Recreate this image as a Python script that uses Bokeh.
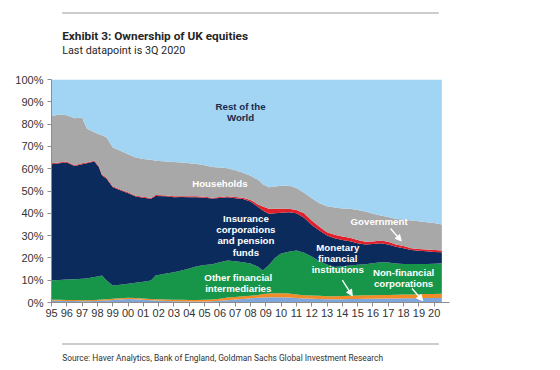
from bokeh.plotting import figure
from bokeh.layouts import column
from bokeh.models import ColumnDataSource, FixedTicker, Arrow, NormalHead
from bokeh.embed import file_html
from bokeh.resources import INLINE
from bokeh.core.properties import value

# ---------------- data (share of UK equities, %) ----------------
years = [1995.0, 1995.5, 1996.0, 1996.5, 1997.0, 1997.3, 1997.8, 1998.1, 1998.3, 1998.6,
         1999.0, 1999.5, 2000.0, 2000.5, 2001.0, 2001.5, 2001.8, 2002.5, 2003.0, 2003.5,
         2004.0, 2004.5, 2005.0, 2005.5, 2006.0, 2006.5, 2007.0, 2007.5, 2008.0, 2008.5,
         2008.8, 2009.2, 2009.6, 2010.0, 2010.5, 2011.0, 2011.5, 2012.0, 2012.5, 2013.0,
         2013.5, 2014.0, 2014.5, 2015.0, 2015.5, 2016.0, 2016.5, 2017.0, 2017.5, 2018.0,
         2018.5, 2019.0, 2019.5, 2020.0, 2020.5]

non_financial_corps = [0.8, 0.8, 0.7, 0.7, 0.6, 0.6, 0.7, 0.8, 0.8, 0.9,
                       1.1, 1.3, 1.6, 1.5, 1.2, 1.0, 0.9, 0.7, 0.6, 0.6,
                       0.5, 0.5, 0.5, 0.6, 0.8, 1.0, 1.3, 1.6, 1.9, 2.1,
                       2.2, 2.3, 2.3, 2.3, 2.2, 2.0, 1.8, 1.7, 1.6, 1.5,
                       1.5, 1.5, 1.6, 1.6, 1.7, 1.7, 1.8, 1.8, 1.8, 1.9,
                       1.9, 2.0, 2.0, 2.0, 2.0]
monetary_fin_inst = [0.4, 0.4, 0.4, 0.4, 0.4, 0.4, 0.4, 0.4, 0.5, 0.6,
                     0.6, 0.6, 0.5, 0.5, 0.6, 0.6, 0.6, 0.6, 0.6, 0.6,
                     0.6, 0.6, 0.7, 0.7, 0.9, 1.2, 1.2, 1.2, 1.1, 1.3,
                     1.6, 1.7, 1.8, 1.8, 1.8, 1.6, 1.5, 1.4, 1.4, 1.3,
                     1.3, 1.4, 1.4, 1.5, 1.5, 1.6, 1.6, 1.6, 1.7, 1.7,
                     1.7, 1.7, 1.8, 1.8, 1.9]
other_fin_interm = [8.7, 8.9, 9.2, 9.3, 9.6, 9.8, 10.3, 10.6, 10.8, 8.4,
                    5.9, 6.1, 6.3, 6.9, 7.5, 8.3, 10.6, 11.7, 12.4, 13.1,
                    14.1, 15.2, 15.6, 15.9, 16.3, 16.6, 16.0, 15.2, 14.5, 12.6,
                    10.5, 12.8, 15.9, 17.9, 18.8, 19.7, 19.0, 17.5, 15.5, 14.2,
                    13.1, 13.3, 13.6, 13.8, 14.0, 14.3, 14.7, 14.5, 14.0, 13.7,
                    13.7, 13.6, 13.5, 13.6, 13.7]
insurance_pension = [52.1, 52.3, 52.5, 50.8, 51.4, 51.6, 51.8, 48.9, 44.9, 45.6,
                     44.1, 42.3, 40.6, 38.6, 37.7, 36.6, 35.7, 34.6, 33.6, 33.0,
                     32.0, 30.9, 30.2, 29.4, 28.9, 28.4, 28.3, 28.4, 27.8, 26.8,
                     27.0, 23.0, 20.0, 18.3, 17.7, 16.7, 15.7, 14.2, 13.8, 13.0,
                     12.9, 11.8, 10.9, 9.7, 8.8, 8.6, 8.5, 8.1, 7.5, 7.0,
                     6.2, 5.9, 5.7, 5.3, 4.9]
government = [0.5, 0.4, 0.4, 0.4, 0.4, 0.4, 0.4, 0.4, 0.4, 0.4,
              0.4, 0.4, 0.4, 0.4, 0.4, 0.4, 0.4, 0.4, 0.4, 0.4,
              0.4, 0.4, 0.4, 0.4, 0.4, 0.4, 0.5, 0.6, 0.7, 1.2,
              1.7, 2.2, 2.0, 1.7, 1.5, 1.5, 2.0, 2.0, 1.7, 1.5,
              1.6, 1.6, 1.5, 1.4, 1.2, 1.2, 1.2, 1.2, 1.0, 1.0,
              0.8, 0.8, 0.8, 0.8, 0.8]
households = [21.0, 21.5, 20.8, 21.0, 20.6, 15.2, 12.8, 14.4, 17.6, 18.1,
              17.4, 17.3, 17.1, 17.1, 16.9, 17.1, 15.4, 15.2, 15.4, 15.1,
              14.9, 14.5, 14.2, 13.8, 13.2, 12.6, 12.0, 11.2, 10.8, 11.0,
              10.0, 9.7, 10.0, 10.3, 10.5, 9.8, 9.2, 10.0, 10.5, 11.7,
              12.2, 12.6, 13.0, 13.5, 13.6, 12.4, 11.2, 11.1, 11.5, 11.9,
              12.5, 12.4, 12.2, 12.1, 11.7]
rest_of_world = [16.5, 15.7, 16.0, 17.4, 17.0, 22.0, 23.6, 24.5, 25.0, 26.0,
                 30.5, 32.0, 33.5, 35.0, 35.7, 36.0, 36.4, 36.8, 37.0, 37.2,
                 37.5, 37.9, 38.4, 39.2, 39.5, 39.8, 40.7, 41.8, 43.2, 45.0,
                 47.0, 48.3, 48.0, 47.7, 47.5, 48.7, 50.8, 53.2, 55.5, 56.8,
                 57.4, 57.8, 58.0, 58.5, 59.2, 60.2, 61.0, 61.7, 62.5, 62.8,
                 63.2, 63.6, 64.0, 64.4, 65.0]

tick_years = list(range(1995, 2021))
tick_labels = ["95", "96", "97", "98", "99", "00", "01", "02", "03", "04", "05", "06", "07",
               "08", "09", "10", "11", "12", "13", "14", "15", "16", "17", "18", "19", "20"]
y_ticks = [0, 10, 20, 30, 40, 50, 60, 70, 80, 90, 100]
y_labels = ["0%", "10%", "20%", "30%", "40%", "50%", "60%", "70%", "80%", "90%", "100%"]

title_text = "Exhibit 3: Ownership of UK equities"
subtitle_text = "Last datapoint is 3Q 2020"
source_text = "Source: Haver Analytics, Bank of England, Goldman Sachs Global Investment Research"

FONT = "Liberation Sans"
HEAD = "Roboto"
W = 560


def blank(h):
    f = figure(width=W, height=h, x_range=(0, W), y_range=(h, 0), x_axis_type=None,
               y_axis_type=None, min_border=0, min_border_left=0, min_border_right=0,
               min_border_top=0, min_border_bottom=0, toolbar_location=None,
               output_backend="svg", background_fill_color="white",
               border_fill_color="white")
    f.outline_line_color = None
    f.grid.visible = False
    f.title.visible = False
    return f


# ---------------- header ----------------
header = blank(70)
header.segment(x0=[15], y0=[12.5], x1=[545], y1=[12.5], line_color="#999999", line_width=1)
header.text(x=[15], y=[35], text=[title_text], text_font=value(HEAD), text_font_style="bold",
            text_font_size="11.8px", text_color="#262626", text_baseline="alphabetic")
header.text(x=[15], y=[49.5], text=[subtitle_text], text_font=value(HEAD),
            text_font_size="10.8px", text_color="#262626", text_baseline="alphabetic")

# ---------------- main chart ----------------
stackers = ["nfc", "mfi", "ofi", "icpf", "gov", "hh", "row"]
colors = ["#7FA6DA", "#F28C28", "#17964A", "#0A2B5C", "#E0202A", "#A8A8A8", "#A2D4F3"]

source = ColumnDataSource(dict(year=years, nfc=non_financial_corps, mfi=monetary_fin_inst,
                               ofi=other_fin_interm, icpf=insurance_pension, gov=government,
                               hh=households, row=rest_of_world))

p = figure(width=W, height=260, output_backend="svg", toolbar_location=None,
           x_range=(1995, 2021), y_range=(0, 100),
           min_border_left=51, min_border_right=111, min_border_top=9, min_border_bottom=28,
           background_fill_color="white", border_fill_color="white")
p.outline_line_color = None
p.grid.visible = False
p.title.visible = False

p.varea_stack(stackers=stackers, x="year", color=colors, source=source)

for ax in (p.xaxis[0], p.yaxis[0]):
    ax.axis_line_color = "#8C8C8C"
    ax.major_tick_line_color = "#8C8C8C"
    ax.major_tick_out = 4
    ax.major_tick_in = 0
    ax.minor_tick_line_color = None
    ax.major_label_text_font = FONT
    ax.major_label_text_font_size = "11px"
    ax.major_label_text_color = "#333333"

p.xaxis.ticker = FixedTicker(ticks=tick_years)
p.xaxis.major_label_overrides = {y: l for y, l in zip(tick_years, tick_labels)}
p.xaxis.major_label_standoff = 2
p.yaxis.ticker = FixedTicker(ticks=y_ticks)
p.yaxis.major_label_overrides = {y: l for y, l in zip(y_ticks, y_labels)}
p.yaxis.major_label_standoff = 4


def lines(texts, x, ys, color="white"):
    src = ColumnDataSource(dict(x=[x] * len(texts), y=ys, t=texts))
    p.text(x="x", y="y", text="t", source=src, text_color=color,
           text_font=value(FONT), text_font_style="bold", text_font_size="9.7px",
           text_align="center", text_baseline="middle")


lines(["Rest of the", "World"], 2007.35, [87.9, 83.0], color="#1B2A4A")
lines(["Households"], 2006.0, [53.4])
lines(["Insurance", "corporations", "and pension", "funds"], 2007.7, [37.7, 32.7, 27.6, 22.6])
lines(["Other financial", "intermediaries"], 2007.2, [11.3, 6.4])
lines(["Government"], 2016.4, [36.3])
lines(["Monetary", "financial", "institutions"], 2013.7, [24.8, 19.9, 14.8])
lines(["Non-financial", "corporations"], 2018.0, [13.6, 8.4])

for (xs, ys, xe, ye) in [(2017.15, 33.2, 2017.85, 27.6),
                         (2014.0, 10.0, 2014.65, 3.0),
                         (2018.55, 6.3, 2019.25, 0.8)]:
    p.add_layout(Arrow(end=NormalHead(size=6, fill_color="white", line_color="white"),
                       x_start=xs, y_start=ys, x_end=xe, y_end=ye,
                       line_color="white", line_width=1.3))

# ---------------- footer ----------------
footer = blank(40)
footer.segment(x0=[15], y0=[13.5], x1=[545], y1=[13.5], line_color="#999999", line_width=1)
footer.text(x=[15], y=[27], text=[source_text], text_font=value(HEAD),
            text_font_size="8.4px", text_color="#333333", text_baseline="alphabetic")

layout = column(header, p, footer, spacing=0)
open("out.html", "w").write(file_html(layout, INLINE))
